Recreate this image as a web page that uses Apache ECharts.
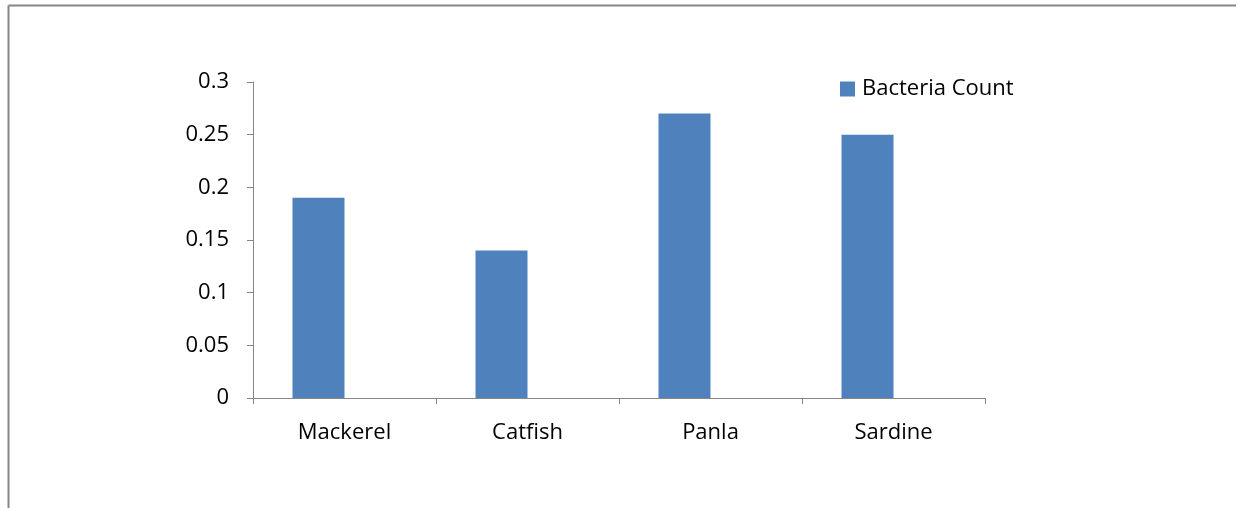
<!DOCTYPE html>
<html><head><meta charset="utf-8">
<script src="https://cdn.jsdelivr.net/npm/echarts@6/dist/echarts.min.js"></script>
<style>html,body{margin:0;padding:0;background:#fff}#c{width:1246px;height:508px}</style>
</head><body><div id="c"></div>
<script>
const categories = ['Mackerel', 'Catfish', 'Panla', 'Sardine'];
const bacteriaCount = [0.19, 0.14, 0.27, 0.25];
const emptySeries = [null, null, null, null];
const seriesName = 'Bacteria Count';

const chart = echarts.init(document.getElementById('c'), null, {renderer: 'canvas'});
const font = '"Open Sans", Lato, sans-serif';
const axisColor = '#868686';
chart.setOption({
  animation: false,
  textStyle: {fontFamily: font},
  graphic: [
    {type: 'line', shape: {x1: 8.5, y1: 5.5, x2: 1236, y2: 5.5}, style: {stroke: '#868686', lineWidth: 2}},
    {type: 'line', shape: {x1: 8.5, y1: 5.5, x2: 8.5, y2: 508}, style: {stroke: '#868686', lineWidth: 2}}
  ],
  legend: {
    left: 835, top: 73,
    icon: 'rect',
    itemWidth: 15, itemHeight: 15, itemGap: 10,
    textStyle: {fontSize: 22, color: '#000', fontFamily: font, padding: [0, 0, 0, 2]},
    data: [seriesName]
  },
  grid: {left: 253, right: 261, top: 82, bottom: 110},
  xAxis: {
    type: 'category',
    data: categories,
    axisLine: {lineStyle: {color: axisColor, width: 1}},
    axisTick: {show: true, length: 6, lineStyle: {color: axisColor}},
    axisLabel: {fontSize: 22, color: '#000', margin: 24, fontFamily: font}
  },
  yAxis: {
    type: 'value',
    min: 0, max: 0.3, interval: 0.05,
    axisLine: {show: true, lineStyle: {color: axisColor, width: 1}},
    axisTick: {show: true, length: 6, lineStyle: {color: axisColor}},
    splitLine: {show: false},
    axisLabel: {fontSize: 22, color: '#000', margin: 24, fontFamily: font}
  },
  series: [{
    name: seriesName,
    type: 'bar',
    data: bacteriaCount,
    barWidth: 52,
    barGap: '0%',
    itemStyle: {color: '#4f81bd'}
  }, {
    name: '_empty',
    type: 'bar',
    data: emptySeries,
    barWidth: 52,
    barGap: '0%',
    itemStyle: {color: 'transparent'}
  }]
});
</script></body></html>
